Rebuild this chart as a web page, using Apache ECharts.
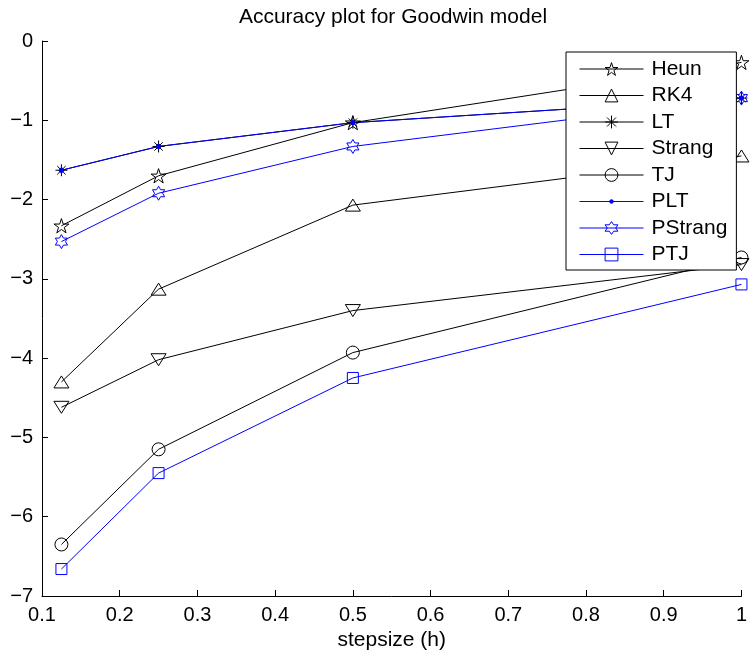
<!doctype html>
<html>
<head>
<meta charset="UTF-8">
<title>Accuracy plot for Goodwin model</title>
<script src="https://cdn.jsdelivr.net/npm/echarts@6/dist/echarts.min.js"></script>
<style>
  html, body { margin: 0; padding: 0; background: #fff; }
  #main { width: 750px; height: 656px; }
</style>
</head>
<body>
<div id="main"></div>
<script>
// step sizes and log10 errors
var stepsize = [0.125, 0.25, 0.5, 1];
var heun    = [-2.33, -1.70, -1.03, -0.27];
var rk4     = [-4.30, -3.13, -2.07, -1.45];
var lt      = [-1.63, -1.33, -1.03, -0.72];
var strang  = [-4.62, -4.02, -3.40, -2.82];
var tj      = [-6.35, -5.15, -3.93, -2.73];
var plt     = [-1.63, -1.33, -1.03, -0.72];
var pstrang = [-2.53, -1.92, -1.33, -0.72];
var ptj     = [-6.66, -5.45, -4.25, -3.07];

var FONT = 'Liberation Sans, Arial, Helvetica, sans-serif';
var BLUE = '#0000ff';

// n-pointed star as a path symbol
function starPath(n, inner) {
    var d = '';
    for (var i = 0; i < 2 * n; i++) {
        var r = i % 2 ? inner : 1;
        var a = Math.PI * i / n - Math.PI / 2;
        d += (i ? 'L' : 'M') + (r * Math.cos(a)).toFixed(4) + ' ' + (r * Math.sin(a)).toFixed(4) + ' ';
    }
    return 'path://' + d + 'Z';
}
var symPentagram = starPath(5, 0.38);
var symHexagram  = starPath(6, 0.577);
var symAsterisk  = 'path://M0 -1 L0 1 M-1 0 L1 0 M-0.7 -0.7 L0.7 0.7 M-0.7 0.7 L0.7 -0.7';
var symTriUp     = 'path://M0 -0.8 L1 0.8 L-1 0.8 Z';
var symTriDown   = 'path://M0 0.8 L1 -0.8 L-1 -0.8 Z';
var symDot       = 'path://M-1 -1 M1 1 M0.28 0 A0.28 0.28 0 1 1 -0.28 0 A0.28 0.28 0 1 1 0.28 0 Z';

function pairs(ys) {
    return stepsize.map(function (x, i) { return [x, ys[i]]; });
}

function mkSeries(name, ys, color, symbol, size, filled) {
    return {
        name: name,
        type: 'line',
        data: pairs(ys),
        symbol: symbol,
        symbolSize: size,
        symbolKeepAspect: true,
        showAllSymbol: true,
        clip: false,
        animation: false,
        lineStyle: { color: color, width: 1 },
        itemStyle: {
            color: filled ? color : 'transparent',
            borderColor: color,
            borderWidth: 1
        },
        emphasis: { disabled: true }
    };
}

var myChart = echarts.init(document.getElementById('main'));

var option = {
    backgroundColor: '#fff',
    title: {
        text: 'Accuracy plot for Goodwin model',
        left: 393,
        textAlign: 'center',
        top: 7,
        padding: 0,
        textStyle: { fontFamily: FONT, fontSize: 21, fontWeight: 'normal', color: '#000' }
    },
    grid: { left: 42, right: 4, top: 41, bottom: 60, containLabel: false },
    xAxis: {
        type: 'value',
        min: 0.1,
        max: 1,
        interval: 0.1,
        name: 'stepsize (h)',
        nameLocation: 'middle',
        nameGap: 32,
        nameTextStyle: { fontFamily: FONT, fontSize: 21, color: '#000' },
        axisLine: { onZero: false, lineStyle: { color: '#000', width: 1 } },
        axisTick: { inside: true, length: 6, lineStyle: { color: '#000' } },
        axisLabel: {
            fontFamily: FONT, fontSize: 20, color: '#000', margin: 9,
            formatter: function (v) { return String(Math.round(v * 10) / 10); }
        },
        splitLine: { show: false }
    },
    yAxis: {
        type: 'value',
        min: -7,
        max: 0,
        interval: 1,
        axisLine: { show: true, onZero: false, lineStyle: { color: '#000', width: 1 } },
        axisTick: { show: true, inside: true, length: 6, lineStyle: { color: '#000' } },
        axisLabel: {
            fontFamily: FONT, fontSize: 20, color: '#000', margin: 9,
            formatter: function (v) { return v < 0 ? '\u2212' + Math.abs(v) : String(v); }
        },
        splitLine: { show: false }
    },
    legend: {
        orient: 'vertical',
        left: 566,
        top: 52,
        itemWidth: 64,
        itemHeight: 16,
        itemGap: 5.5,
        padding: [6.5, 9, 5, 13],
        backgroundColor: '#fff',
        borderColor: '#000',
        borderWidth: 1,
        selectedMode: false,
        lineStyle: { width: 1 },
        itemStyle: { borderWidth: 1 },
        textStyle: { fontFamily: FONT, fontSize: 21, color: '#000', padding: [0, 0, 0, 3] },
        data: ['Heun', 'RK4', 'LT', 'Strang', 'TJ', 'PLT', 'PStrang', 'PTJ']
    },
    series: [
        mkSeries('Heun', heun, '#000', symPentagram, 15, false),
        mkSeries('RK4', rk4, '#000', symTriUp, 15, false),
        mkSeries('LT', lt, '#000', symAsterisk, 12, false),
        mkSeries('Strang', strang, '#000', symTriDown, 15, false),
        mkSeries('TJ', tj, '#000', 'circle', 13, false),
        mkSeries('PLT', plt, BLUE, symDot, 16, true),
        mkSeries('PStrang', pstrang, BLUE, symHexagram, 14, false),
        mkSeries('PTJ', ptj, BLUE, 'rect', 11, false)
    ]
};

myChart.setOption(option);
</script>
</body>
</html>
